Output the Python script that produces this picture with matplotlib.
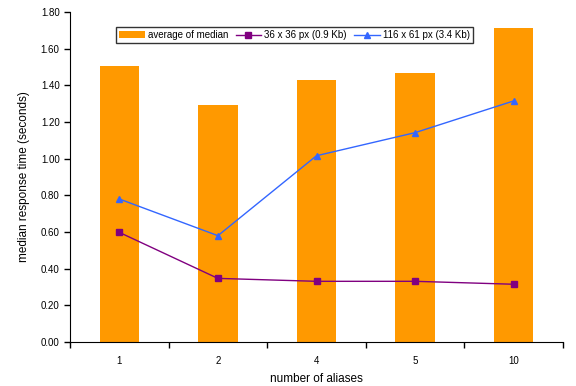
import numpy as np
import matplotlib
matplotlib.use('Agg')
import matplotlib.pyplot as plt

plt.rcParams['font.family'] = ['Liberation Sans', 'DejaVu Sans']

aliases = ['1', '2', '4', '5', '10']
avg_median = [1.505, 1.293, 1.43, 1.469, 1.713]
small_img = [0.598, 0.347, 0.331, 0.331, 0.315]
big_img = [0.78, 0.58, 1.016, 1.142, 1.315]

fig = plt.figure(figsize=(5.76, 3.86), dpi=100)
ax = fig.add_axes([70/576, 44/386, 493/576, 330/386])

x = np.arange(len(aliases))
bars = ax.bar(x, avg_median, width=0.4, color='#FF9900', label='average of median', zorder=1)
l1, = ax.plot(x, small_img, color='#800080', lw=1, marker='s', ms=4,
              label='36 x 36 px (0.9 Kb)', zorder=3)
l2, = ax.plot(x, big_img, color='#3366FF', lw=1, marker='^', ms=4.5,
              label='116 x 61 px (3.4 Kb)', zorder=3)

ax.set_xlim(-0.5, 4.5)
ax.set_ylim(0, 1.8)
ax.set_yticks(np.arange(0, 1.81, 0.2))
ax.set_yticklabels(['%.2f' % v for v in np.arange(0, 1.81, 0.2)], fontsize=7)
ax.set_xticks(np.arange(-0.5, 4.6, 1.0))
ax.set_xticklabels([])
ax.set_xticks(x, minor=True)
ax.set_xticklabels(aliases, minor=True, fontsize=7)
ax.tick_params(axis='x', which='minor', length=0, pad=10)
ax.tick_params(axis='both', which='major', direction='out', length=4, width=1, color='black')
ax.spines['top'].set_visible(False)
ax.spines['right'].set_visible(False)

ax.set_xlabel('number of aliases', fontsize=8.5, labelpad=5)
ax.set_ylabel('median response time (seconds)', fontsize=8.5, labelpad=8)

leg = fig.legend([bars, l1, l2], ['average of median', '36 x 36 px (0.9 Kb)', '116 x 61 px (3.4 Kb)'],
                 loc='center', bbox_to_anchor=(294.5/576, (386-35)/386), ncol=3,
                 fontsize=7, frameon=True, fancybox=False, edgecolor='black',
                 handlelength=2.6, handletextpad=0.3, columnspacing=0.8,
                 borderpad=0.35)
leg.get_frame().set_linewidth(1)

fig.savefig('out.png', dpi=100)
